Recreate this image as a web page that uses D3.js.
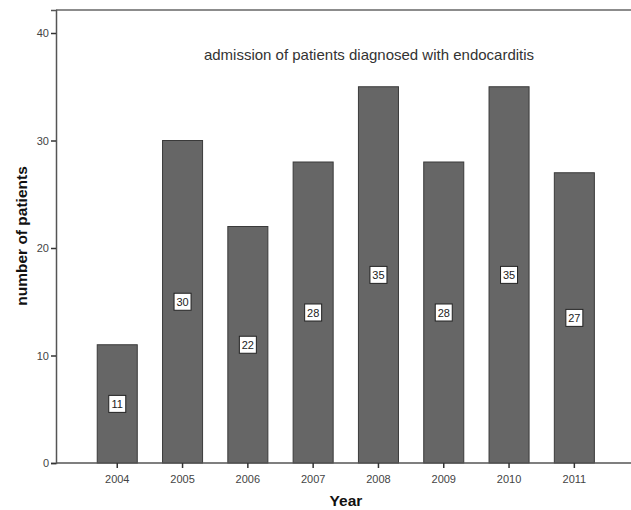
<!DOCTYPE html>
<html>
<head>
<meta charset="utf-8">
<script src="https://cdn.jsdelivr.net/npm/d3@7"></script>
<style>
    body { margin: 0; background: #fff; }
    text { font-family: "Liberation Sans", Arial, sans-serif; }
</style>
</head>
<body>
<div id="chart"></div>
<script>
const years = ["2004", "2005", "2006", "2007", "2008", "2009", "2010", "2011"];
const patients = [11, 30, 22, 28, 35, 28, 35, 27];
const yTicks = [0, 10, 20, 30, 40];

const width = 631, height = 510;
const margin = {top: 10, right: 0, bottom: 47, left: 56};
const innerW = width - margin.left - margin.right;
const innerH = height - margin.top - margin.bottom;

const svg = d3.select("#chart").append("svg")
    .attr("width", width)
    .attr("height", height);

const g = svg.append("g")
    .attr("transform", `translate(${margin.left},${margin.top})`);

const data = years.map((y, i) => ({year: y, value: patients[i]}));

const x = d3.scaleBand()
    .domain(years)
    .range([28.6, 551])
    .paddingInner(0.387)
    .paddingOuter(0.1935);

const y = d3.scaleLinear()
    .domain([0, 42.14])
    .range([innerH, 0]);

// frame (top + left + bottom)
g.append("line")
    .attr("x1", 0).attr("x2", innerW)
    .attr("y1", 0).attr("y2", 0)
    .attr("stroke", "#666").attr("stroke-width", 1.5);

// bars
g.selectAll(".bar")
    .data(data)
    .join("rect")
    .attr("class", "bar")
    .attr("x", d => x(d.year))
    .attr("y", d => y(d.value))
    .attr("width", x.bandwidth())
    .attr("height", d => innerH - y(d.value))
    .attr("fill", "#666666")
    .attr("stroke", "#3a3a3a")
    .attr("stroke-width", 1);

// value labels
const labels = g.selectAll(".val")
    .data(data)
    .join("g")
    .attr("class", "val")
    .attr("transform", d => `translate(${x(d.year) + x.bandwidth() / 2},${(y(d.value) + innerH) / 2})`);

labels.append("rect")
    .attr("x", -8.5).attr("y", -8.5)
    .attr("width", 17).attr("height", 17)
    .attr("fill", "#fff")
    .attr("stroke", "#222")
    .attr("stroke-width", 1);

labels.append("text")
    .attr("text-anchor", "middle")
    .attr("y", 4)
    .attr("font-size", "11px")
    .attr("fill", "#222")
    .text(d => d.value);

// axes
const yAxis = g.append("g")
    .call(d3.axisLeft(y).tickValues(yTicks).tickSize(5).tickPadding(2));
yAxis.select(".domain").attr("stroke", "#555").attr("stroke-width", 1.5);
yAxis.selectAll(".tick line").attr("stroke", "#333").attr("stroke-width", 1.5);
yAxis.selectAll(".tick text").attr("font-size", "11px").attr("fill", "#444")
    .style("font-family", "Liberation Sans, Arial, sans-serif");

const xAxis = g.append("g")
    .attr("transform", `translate(0,${innerH})`)
    .call(d3.axisBottom(x).tickSize(5).tickSizeOuter(0).tickPadding(7));
xAxis.select(".domain").attr("d", `M0,0H${innerW}`).attr("stroke", "#555").attr("stroke-width", 1.5);
xAxis.selectAll(".tick line").attr("stroke", "#333").attr("stroke-width", 1.5);
xAxis.selectAll(".tick text").attr("font-size", "11px").attr("fill", "#444")
    .style("font-family", "Liberation Sans, Arial, sans-serif");

// title inside plot
g.append("text")
    .attr("x", 313)
    .attr("y", 50)
    .attr("text-anchor", "middle")
    .attr("font-size", "15px")
    .attr("fill", "#333")
    .text("admission of patients diagnosed with endocarditis");

// axis titles
svg.append("text")
    .attr("x", 346)
    .attr("y", 506)
    .attr("text-anchor", "middle")
    .attr("font-size", "15.5px")
    .attr("font-weight", "bold")
    .attr("fill", "#111")
    .text("Year");

svg.append("text")
    .attr("transform", "translate(27,236) rotate(-90)")
    .attr("text-anchor", "middle")
    .attr("font-size", "15.5px")
    .attr("font-weight", "bold")
    .attr("fill", "#111")
    .text("number of patients");
</script>
</body>
</html>
